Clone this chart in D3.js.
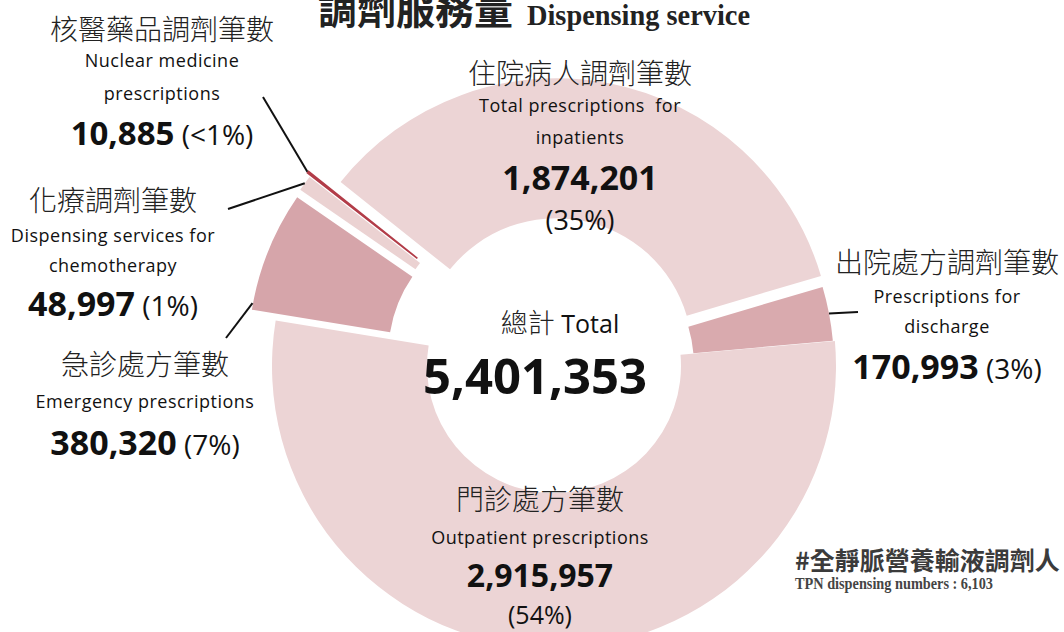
<!DOCTYPE html>
<html>
<head>
<meta charset="utf-8">
<script src="https://cdn.jsdelivr.net/npm/d3@7"></script>
<style>
  body { margin: 0; background: #fff; }
  svg { display: block; }
  .zh { font-family: "Noto Sans CJK TC", "Noto Sans CJK SC", sans-serif; font-weight: 300; fill: #222; }
  .en { font-family: "Open Sans", Lato, sans-serif; fill: #111; }
</style>
</head>
<body>
<div id="chart"></div>
<script>
var svgWidth = 1064;
var svgHeight = 632;

// data
var categories = ["住院病人調劑筆數", "出院處方調劑筆數", "門診處方筆數", "急診處方筆數", "化療調劑筆數", "核醫藥品調劑筆數"];
var categoriesEn = [
  ["Total prescriptions  for", "inpatients"],
  ["Prescriptions for", "discharge"],
  ["Outpatient prescriptions"],
  ["Emergency prescriptions"],
  ["Dispensing services for", "chemotherapy"],
  ["Nuclear medicine", "prescriptions"]
];
var counts = [1874201, 170993, 2915957, 380320, 48997, 10885];
var tpnCount = 6103;

// styles / layout
var colors = ["#ecd4d5", "#d9aaae", "#ecd4d5", "#d6a5aa", "#ebd2d2", "#b23c48"];
var explode = [12, 4, 0, 32, 33, 38];
var outerRs = [276, 276, 282, 276, 276, 276];
var innerRs = [136, 136, 127, 136, 136, 136];
var cx = 554, cy = 366;
var startAngle = -51.4 * Math.PI / 180;

// label positions: x centre, baselines of each line, whether pct goes on its own line
var labelLayout = [
  { x: 580, ys: [84, 112, 144, 190, 230], split: true, numSize: 34, pctSize: 27 },
  { x: 947, ys: [273, 303, 333, 379], split: false, numSize: 34 },
  { x: 540, ys: [510, 544, 587, 624], split: true, numSize: 32, pctSize: 25 },
  { x: 145, ys: [375, 408, 455], split: false, numSize: 34 },
  { x: 113, ys: [211, 242, 272, 316], split: false, numSize: 34 },
  { x: 162, ys: [40, 67, 100, 145], split: false, numSize: 33 }
];
// leader lines: label end point, and where on the slice the line touches (fraction of angle)
var leaders = [
  null,
  { x: 858, y: 312, frac: 0.5 },
  null,
  { x: 226, y: 338, frac: 0.1 },
  { x: 228, y: 209, frac: 0.5 },
  { x: 263, y: 97, frac: 0.5 }
];

var svg = d3.select("#chart")
  .append("svg")
  .attr("width", svgWidth)
  .attr("height", svgHeight);

var total = d3.sum(counts);
var fmt = d3.format(",");
function pctText(v) {
  var p = v / total * 100;
  return p < 0.5 ? "(<1%)" : "(" + Math.round(p) + "%)";
}

var pie = d3.pie().sort(null).value(d => d)
  .startAngle(startAngle).endAngle(startAngle + 2 * Math.PI);
var arcs = pie(counts);
var arc = d3.arc()
  .innerRadius(d => innerRs[d.index])
  .outerRadius(d => outerRs[d.index]);

var chartGroup = svg.append("g")
  .attr("transform", `translate(${cx}, ${cy})`);

chartGroup.selectAll("path")
  .data(arcs)
  .enter()
  .append("path")
  .attr("d", arc)
  .attr("fill", (d, i) => colors[i])
  .attr("transform", function(d, i) {
    var mid = (d.startAngle + d.endAngle) / 2;
    return `translate(${explode[i] * Math.sin(mid)}, ${-explode[i] * Math.cos(mid)})`;
  });

// leader lines
arcs.forEach(function(d, i) {
  var l = leaders[i];
  if (!l) return;
  var a = d.startAngle + l.frac * (d.endAngle - d.startAngle);
  var rr = outerRs[i] + explode[i];
  svg.append("line")
    .attr("x1", l.x).attr("y1", l.y)
    .attr("x2", cx + rr * Math.sin(a))
    .attr("y2", cy - rr * Math.cos(a))
    .attr("stroke", "#111")
    .attr("stroke-width", 2);
});

// slice labels
labelLayout.forEach(function(lay, i) {
  var k = 0;
  svg.append("text").attr("class", "zh")
    .attr("x", lay.x).attr("y", lay.ys[k++])
    .attr("text-anchor", "middle")
    .attr("font-size", 28)
    .text(categories[i]);
  categoriesEn[i].forEach(function(line) {
    svg.append("text").attr("class", "en")
      .attr("x", lay.x).attr("y", lay.ys[k++])
      .attr("text-anchor", "middle")
      .attr("font-size", 18)
      .attr("letter-spacing", 0.5)
      .style("white-space", "pre")
      .text(line);
  });
  var num = svg.append("text").attr("class", "en")
    .attr("x", lay.x).attr("y", lay.ys[k++])
    .attr("text-anchor", "middle");
  num.append("tspan")
    .attr("font-size", lay.numSize).attr("font-weight", 700)
    .text(fmt(counts[i]));
  if (lay.split) {
    svg.append("text").attr("class", "en")
      .attr("x", lay.x).attr("y", lay.ys[k++])
      .attr("text-anchor", "middle")
      .attr("font-size", lay.pctSize)
      .text(pctText(counts[i]));
  } else {
    num.append("tspan")
      .attr("font-size", 28)
      .text(" " + pctText(counts[i]));
  }
});

// centre total
var tt = svg.append("text")
  .attr("x", 560).attr("y", 333)
  .attr("text-anchor", "middle");
tt.append("tspan").attr("class", "zh").attr("font-size", 27).text("總計");
tt.append("tspan").attr("class", "en").attr("font-size", 25).text(" Total");

svg.append("text").attr("class", "en")
  .attr("x", 535).attr("y", 394)
  .attr("text-anchor", "middle")
  .attr("font-size", 49)
  .attr("font-weight", 700)
  .text(fmt(total));

// title
svg.append("text").attr("class", "zh")
  .attr("x", 318).attr("y", 24)
  .attr("font-size", 39)
  .style("font-weight", 700)
  .text("調劑服務量");

svg.append("text")
  .attr("x", 527).attr("y", 25)
  .attr("font-family", "'Liberation Serif', 'DejaVu Serif', serif")
  .attr("font-weight", 700)
  .attr("font-size", 30)
  .attr("fill", "#222")
  .attr("textLength", 223)
  .attr("lengthAdjust", "spacingAndGlyphs")
  .text("Dispensing service");

// TPN note
svg.append("text").attr("class", "zh")
  .attr("x", 795).attr("y", 570)
  .attr("font-size", 25)
  .style("font-weight", 700)
  .style("fill", "#3b3b3b")
  .text("#全靜脈營養輸液調劑人");

svg.append("text")
  .attr("x", 795).attr("y", 589)
  .attr("font-family", "'Liberation Serif', serif")
  .attr("font-weight", 700)
  .attr("font-size", 16)
  .attr("fill", "#444")
  .attr("textLength", 198)
  .attr("lengthAdjust", "spacingAndGlyphs")
  .text("TPN dispensing numbers : " + fmt(tpnCount));
</script>
</body>
</html>
